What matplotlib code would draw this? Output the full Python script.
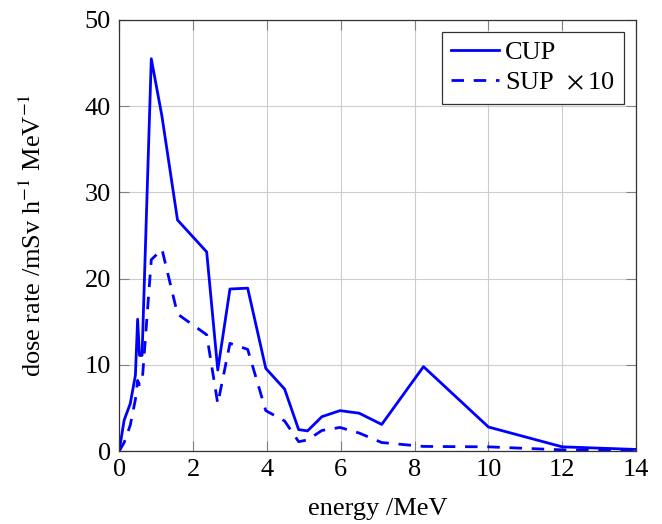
import matplotlib
matplotlib.use('Agg')
import matplotlib.pyplot as plt

plt.rcParams['font.family'] = ['Liberation Serif', 'DejaVu Serif']
plt.rcParams['mathtext.fontset'] = 'stix'

# energy grid /MeV
energy = [0.0, 0.135, 0.3, 0.44, 0.5, 0.55, 0.62, 0.87, 1.16, 1.58, 2.37, 2.67,
          3.0, 3.48, 3.97, 4.48, 4.86, 5.1, 5.49, 5.98, 6.5, 7.11, 8.24, 10.0,
          12.0, 14.0]
cup = [0.0, 3.6, 5.5, 8.8, 15.3, 11.1, 11.1, 45.5, 38.8, 26.8, 23.1, 9.4,
       18.8, 18.9, 9.6, 7.2, 2.5, 2.35, 4.0, 4.7, 4.4, 3.1, 9.8, 2.8,
       0.5, 0.2]
sup_x10 = [0.0, 1.0, 3.0, 6.0, 8.2, 7.7, 7.9, 22.2, 23.4, 15.9, 13.5, 5.5,
           12.5, 11.8, 4.7, 3.5, 1.1, 1.3, 2.4, 2.75, 2.1, 1.0, 0.55, 0.5,
           0.15, 0.05]

fig = plt.figure(figsize=(6.62, 5.24), dpi=100)
ax = fig.add_axes([0.18, 0.139, 0.781, 0.823])

ax.plot(energy, cup, color='#0000ff', lw=2, label='CUP')
ax.plot(energy, sup_x10, color='#0000ff', lw=2, ls=(0, (4.5, 3.5)),
        label=r'SUP $\,\times$10')

ax.set_xlim(0, 14)
ax.set_ylim(0, 50)
ax.set_xticks(range(0, 15, 2))
ax.set_yticks(range(0, 51, 10))
ax.grid(True, color='#cccccc', lw=0.8)
ax.tick_params(direction='in', top=True, right=True, labelsize=19, length=7,
               color='#808080', pad=6)
for s in ax.spines.values():
    s.set_linewidth(0.9)
    s.set_color('#333333')

ax.set_xlabel('energy /MeV', fontsize=19, labelpad=12)
ax.set_ylabel(r'dose rate /mSv h$^{-1}$ MeV$^{-1}$', fontsize=19, labelpad=28)

leg = ax.legend(loc='upper right', fontsize=19, fancybox=False, framealpha=1,
                edgecolor='#333333', handlelength=1.8, borderaxespad=0.45,
                labelspacing=0.25, handletextpad=0.25, borderpad=0.35)
leg.get_frame().set_linewidth(0.9)

fig.savefig('out.png', dpi=100)
